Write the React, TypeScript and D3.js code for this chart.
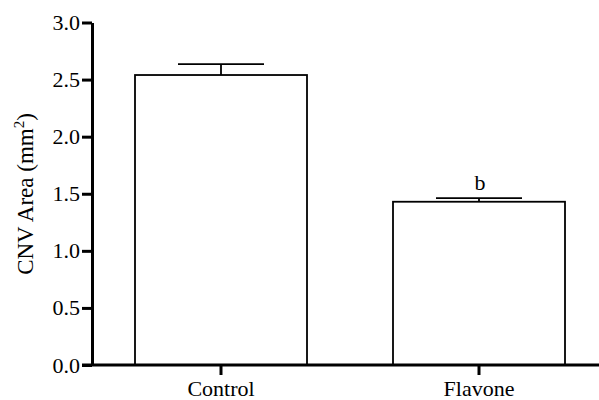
import React, { useEffect, useRef } from "react";
import * as d3 from "d3";

const groups = ["Control", "Flavone"];
const means = [2.54, 1.43];
const sems = [0.095, 0.032];
const marks = ["", "b"];
const yTicks = [0, 0.5, 1.0, 1.5, 2.0, 2.5, 3.0];

const FONT = '"Liberation Serif", "Times New Roman", Times, serif';

const App = () => {
  const svgRef = useRef<SVGSVGElement>(null);

  useEffect(() => {
    const width = 599;
    const height = 400;
    const left = 92;
    const bottom = 365;

    const svg = d3.select(svgRef.current);
    svg.selectAll("*").remove();
    svg.attr("width", width).attr("height", height);

    const x = d3
      .scaleBand()
      .domain(groups)
      .range([left, left + 516])
      .paddingInner(1 / 3)
      .paddingOuter(1 / 6);

    const y = d3.scaleLinear().domain([0, 3]).range([bottom, 22.5]);

    // bars
    svg
      .selectAll("rect.bar")
      .data(groups)
      .enter()
      .append("rect")
      .attr("class", "bar")
      .attr("x", (d) => x(d)!)
      .attr("y", (d, i) => y(means[i]))
      .attr("width", x.bandwidth())
      .attr("height", (d, i) => bottom - y(means[i]))
      .attr("fill", "white")
      .attr("stroke", "black")
      .attr("stroke-width", 1.8);

    // error bars (upper only)
    const err = svg.append("g").attr("stroke", "black").attr("stroke-width", 1.8);
    groups.forEach((g, i) => {
      const cx = x(g)! + x.bandwidth() / 2;
      const capHalf = x.bandwidth() / 4;
      err
        .append("line")
        .attr("x1", cx)
        .attr("x2", cx)
        .attr("y1", y(means[i]))
        .attr("y2", y(means[i] + sems[i]));
      err
        .append("line")
        .attr("x1", cx - capHalf)
        .attr("x2", cx + capHalf)
        .attr("y1", y(means[i] + sems[i]))
        .attr("y2", y(means[i] + sems[i]));
      if (marks[i]) {
        svg
          .append("text")
          .attr("x", cx + 1)
          .attr("y", y(means[i] + sems[i]) - 8)
          .attr("text-anchor", "middle")
          .style("font-family", FONT)
          .style("font-size", "22px")
          .text(marks[i]);
      }
    });

    // y axis
    const yAxis = svg
      .append("g")
      .attr("transform", `translate(${left},0)`)
      .call(
        d3
          .axisLeft(y)
          .tickValues(yTicks)
          .tickFormat(d3.format(".1f"))
          .tickSize(10)
          .tickSizeOuter(0)
          .tickPadding(2)
      );
    yAxis.attr("font-family", null).attr("font-size", null);
    yAxis.select(".domain").attr("stroke-width", 3);
    yAxis.selectAll(".tick line").attr("stroke-width", 3);
    yAxis
      .selectAll(".tick text")
      .style("font-family", FONT)
      .style("font-size", "22px")
      .attr("fill", "black");

    // x axis
    const xAxis = svg
      .append("g")
      .attr("transform", `translate(0,${bottom})`)
      .call(d3.axisBottom(x).tickSize(10).tickSizeOuter(0).tickPadding(5));
    xAxis.attr("font-family", null).attr("font-size", null);
    xAxis.select(".domain").remove();
    xAxis
      .append("line")
      .attr("x1", left - 10)
      .attr("x2", width)
      .attr("stroke", "black")
      .attr("stroke-width", 3);
    xAxis.selectAll(".tick line").attr("stroke-width", 3);
    xAxis
      .selectAll(".tick text")
      .style("font-family", FONT)
      .style("font-size", "22px")
      .attr("fill", "black");

    // y title
    const title = svg
      .append("text")
      .attr("transform", `translate(33,194) rotate(-90)`)
      .attr("text-anchor", "middle")
      .style("font-family", FONT)
      .style("font-size", "23px");
    title.append("tspan").text("CNV Area (mm");
    title
      .append("tspan")
      .attr("dy", -9)
      .style("font-size", "15px")
      .text("2");
    title.append("tspan").attr("dy", 9).text(")");
  }, []);

  return <svg ref={svgRef} style={{ position: "absolute", left: 0, top: 0 }}></svg>;
};

export default App;
